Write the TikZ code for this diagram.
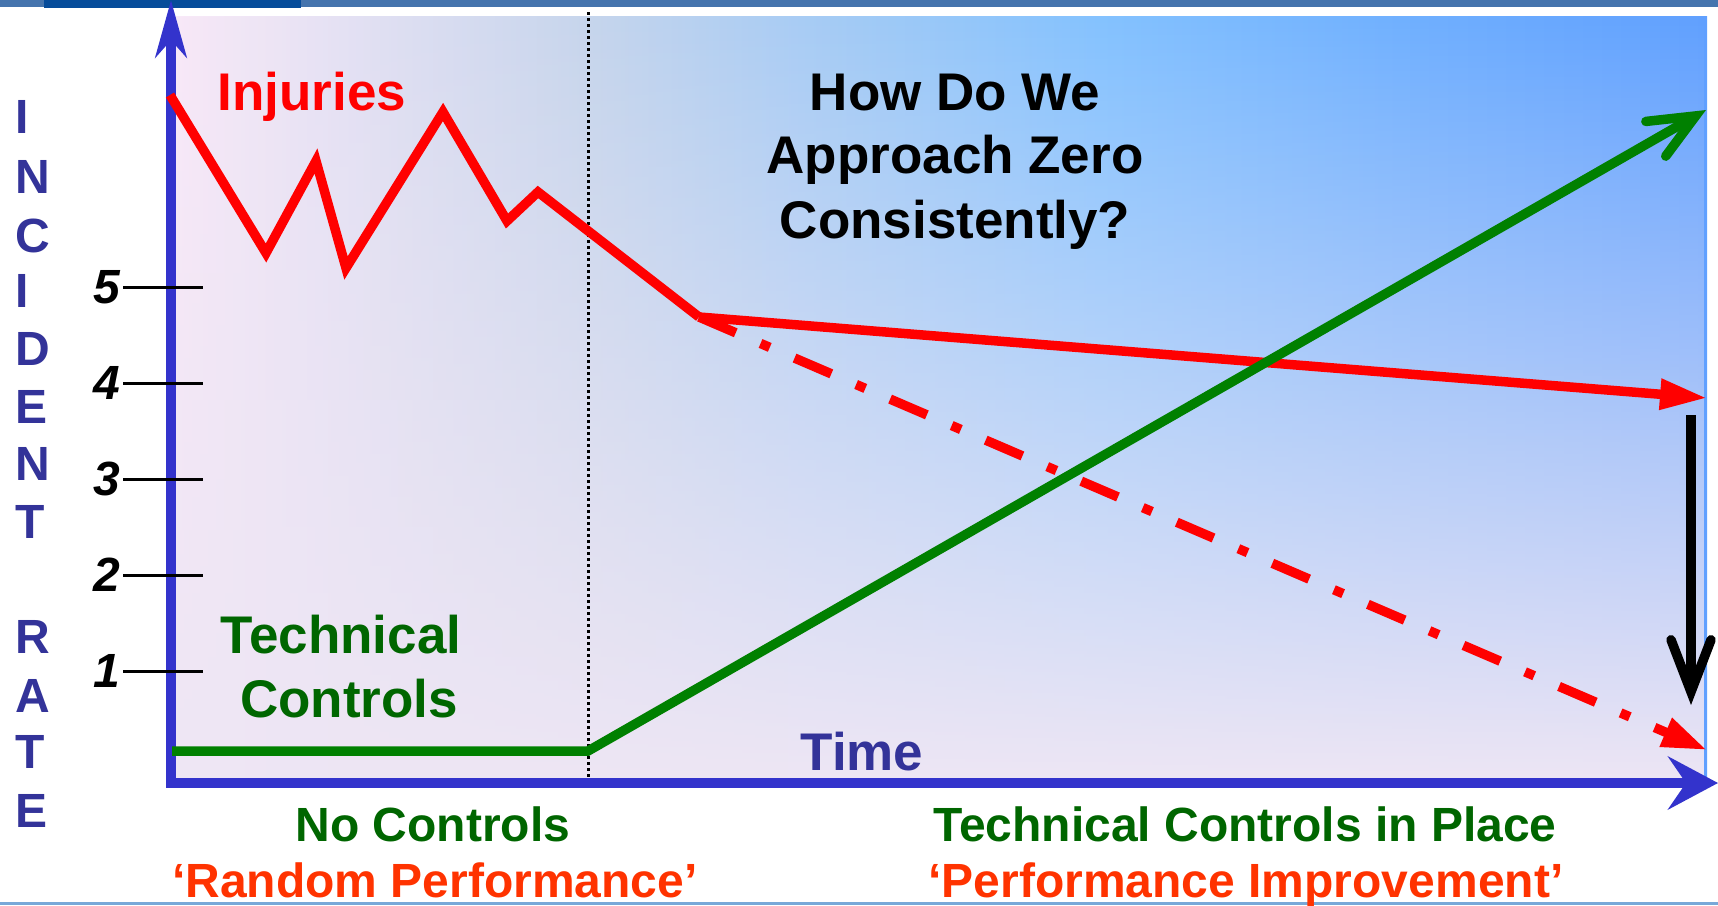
\documentclass[tikz,border=0pt]{standalone}
\usepackage{fontspec}
\setmainfont{Liberation Sans}
\usetikzlibrary{arrows.meta,fadings}

\definecolor{axisblue}{HTML}{3333CC}
\definecolor{labelblue}{HTML}{333399}
\definecolor{injred}{HTML}{FF0000}
\definecolor{perfred}{HTML}{FF3300}
\definecolor{txtgreen}{HTML}{006600}
\definecolor{lngreen}{HTML}{008000}
\definecolor{barsteel}{HTML}{4574AD}
\definecolor{bardark}{HTML}{064C9A}
\definecolor{stripblue}{HTML}{78A8D8}
\definecolor{bgA}{HTML}{F9E9F8}
\definecolor{bgB}{HTML}{C6D5EC}
\definecolor{bgC}{HTML}{A8CCF4}
\definecolor{bgD}{HTML}{84C2FF}
\definecolor{bgE}{HTML}{70B0FF}
\definecolor{bgF}{HTML}{60A0FF}
\definecolor{bgLow}{HTML}{EEE6F4}

\pgfdeclarehorizontalshading{bgtop}{100bp}{color(0bp)=(bgA); color(25bp)=(bgA); color(38.6bp)=(bgB); color(45.5bp)=(bgC); color(55.2bp)=(bgD); color(65bp)=(bgE); color(75bp)=(bgF); color(100bp)=(bgF)}
\tikzfading[name=bgfade, top color=transparent!100, middle color=transparent!72, bottom color=transparent!0]

\newcommand\fntA{\fontsize{53}{64}\selectfont\bfseries}
\newcommand\fntB{\fontsize{48}{58}\selectfont\bfseries}
\newcommand\fntC{\fontsize{48}{58}\selectfont\bfseries}

\tikzset{
  lbl/.style={font=\fntA, inner sep=0pt, anchor=base},
  sublbl/.style={font=\fntB, inner sep=0pt, anchor=base},
  axislbl/.style={font=\fntC, text=labelblue, inner sep=0pt, anchor=base west},
  ticknum/.style={font=\fntC\itshape, inner sep=0pt, anchor=east},
  tickln/.style={black, line width=3pt},
  axisln/.style={axisblue, line width=10.5pt, line join=miter},
  injln/.style={injred, line width=9.5pt, line join=miter},
  trendln/.style={injred, line width=9.5pt, dash pattern=on 40pt off 27pt on 10pt off 27pt},
  ctrlln/.style={lngreen, line width=9.5pt, line join=miter},
  dropln/.style={black, line width=9.5pt},
  divln/.style={black, line width=3pt, dash pattern=on 3pt off 3pt}
}

\begin{document}
\begin{tikzpicture}[x=1pt,y=-1pt]
\useasboundingbox (0,0) rectangle (1718,905);
\fill[white] (0,0) rectangle (1718,905);

% top bars and bottom strip
\fill[barsteel] (0,0) rectangle (1718,6.5);
\fill[bardark] (44,0) rectangle (301,7.7);
\fill[stripblue] (0,902) rectangle (1718,905);

% background
\shade[shading=bgtop] (171,16) rectangle (1707,783);
\fill[bgLow, path fading=bgfade] (171,16) rectangle (1707,783);

% named points
\coordinate (yTip) at (171,0);
\coordinate (origin) at (171,783);
\coordinate (xTip) at (1718,783);
\coordinate (divTop) at (588,12);
\coordinate (divBot) at (588,788);
\coordinate (i0) at (170,95);
\coordinate (i1) at (266,253);
\coordinate (i2) at (316,161);
\coordinate (i3) at (346,268);
\coordinate (i4) at (443,112);
\coordinate (i5) at (507,221);
\coordinate (i6) at (538,192);
\coordinate (i7) at (699,317);
\coordinate (iEnd) at (1707,398);
\coordinate (dEnd) at (1707,750);
\coordinate (g0) at (172,751);
\coordinate (g1) at (588,751);
\coordinate (gEnd) at (1706,110);
\coordinate (b0) at (1691,415);
\coordinate (b1) at (1691,705);

% divider
\draw[divln] (divTop) -- (divBot);

% axes
\draw[axisln, {Stealth[length=57pt,width=31pt,inset=17pt]}-{Stealth[length=50pt,width=53pt,inset=18pt]}] (yTip) -- (origin) -- (xTip);

% ticks
\foreach \n/\yy in {5/287,4/383,3/479,2/575,1/671}{
  \coordinate (t\n a) at (123,\yy);
  \coordinate (t\n b) at (203,\yy);
  \draw[tickln] (t\n a) -- (t\n b);
  \node[ticknum] (n\n) at (120,\yy) {\n};
}

% injuries
\draw[injln] (i0) -- (i1) -- (i2) -- (i3) -- (i4) -- (i5) -- (i6) -- (i7);
\draw[injln, -{Triangle[length=47pt,width=29pt]}] (i7) -- (iEnd);
\draw[trendln, -{Triangle[length=45pt,width=29pt]}] (i7) -- (dEnd);

% technical controls
\draw[ctrlln, -{Straight Barb[length=46pt,width=40pt,line cap=round]}] (g0) -- (g1) -- (gEnd);

% drop arrow
\draw[dropln, -{Straight Barb[length=52pt,width=40pt,line cap=round]}] (b0) -- (b1);

% axis letters
\foreach \ch/\yy [count=\k] in {I/133,N/193,C/252,I/307,D/365,E/423,N/480,T/538,R/653,A/712,T/768,E/827}{
  \node[axislbl] (ax\k) at (15,\yy) {\ch};
}

% labels
\node[lbl, text=injred] (inj) at (312,110) {Injuries};
\node[lbl] (q1) at (955,110) {How Do We};
\node[lbl] (q2) at (955,173) {Approach Zero};
\node[lbl] (q3) at (955,238) {Consistently?};
\node[lbl, text=txtgreen] (tc1) at (341,653) {Technical};
\node[lbl, text=txtgreen] (tc2) at (349,717) {Controls};
\node[lbl, text=labelblue] (time) at (862,770) {Time};
\node[sublbl, text=txtgreen] (nc) at (433,841) {No Controls};
\node[sublbl, text=perfred] (rp) at (435,897) {‘Random Performance’};
\node[sublbl, text=txtgreen] (tcp) at (1245,841) {Technical Controls in Place};
\node[sublbl, text=perfred] (pi) at (1246,897) {‘Performance Improvement’};
\end{tikzpicture}
\end{document}
